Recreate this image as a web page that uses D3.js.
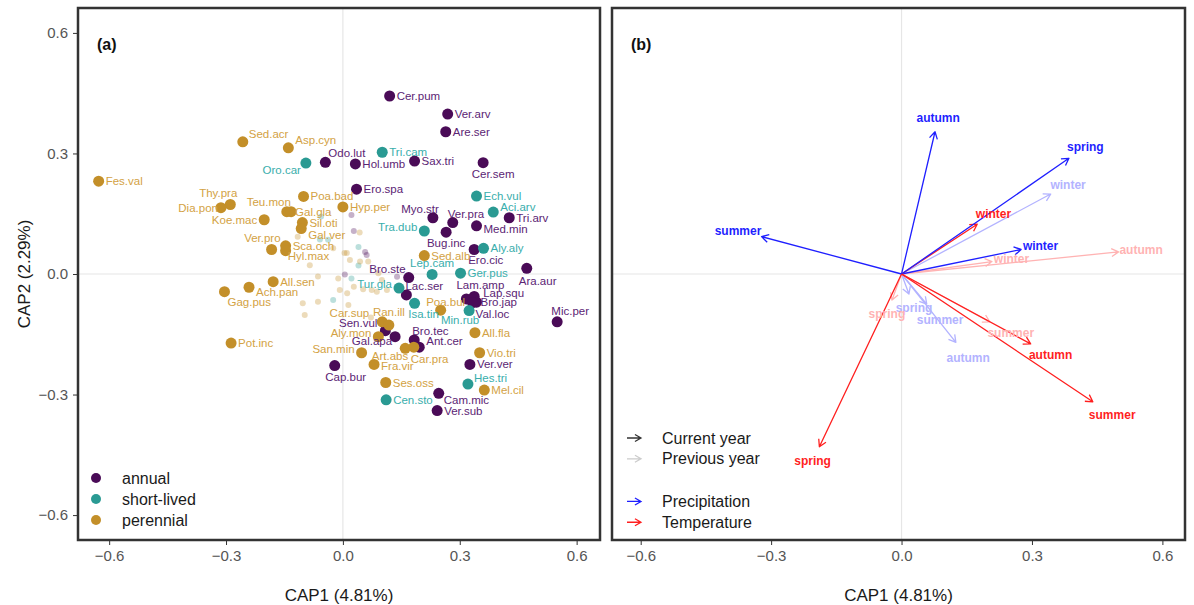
<!DOCTYPE html>
<html>
<head>
<meta charset="utf-8">
<script src="https://cdn.jsdelivr.net/npm/d3@7"></script>
<style>
  body { margin: 0; background: #fff; }
  text { font-family: "Liberation Sans", Arial, sans-serif; }
</style>
</head>
<body>
<svg id="chart" width="1194" height="605"></svg>
<script>
// ---- species scores (CAP1, CAP2) by life form ----
const annualNames = ["Cer.pum","Ver.arv","Are.ser","Odo.lut","Hol.umb","Sax.tri","Cer.sem","Ero.spa","Tri.arv","Myo.str","Ver.pra","Med.min","Bug.inc","Ero.cic","Ara.aur","Bro.ste","Lac.ser","Lam.amp","Lap.squ","Bro.jap","Val.loc","Mic.per","Bro.tec","Ant.cer","Sen.vul","Gal.apa","Cap.bur","Ver.ver","Cam.mic","Ver.sub"];
const annualCap1 = [0.120,0.269,0.264,-0.045,0.032,0.184,0.360,0.035,0.427,0.231,0.282,0.343,0.265,0.337,0.472,0.169,0.163,0.317,0.337,0.343,0.333,0.550,0.183,0.196,0.109,0.134,-0.021,0.326,0.246,0.242];
const annualCap2 = [0.443,0.398,0.354,0.278,0.274,0.281,0.277,0.211,0.140,0.140,0.128,0.120,0.104,0.061,0.014,-0.009,-0.052,-0.062,-0.056,-0.070,-0.071,-0.119,-0.164,-0.182,-0.141,-0.156,-0.228,-0.225,-0.297,-0.340];

const shortNames = ["Oro.car","Tri.cam","Ech.vul","Aci.arv","Tra.dub","Aly.aly","Lep.cam","Ger.pus","Tur.gla","Isa.tin","Min.rub","Hes.tri","Cen.sto"];
const shortCap1 = [-0.095,0.101,0.343,0.386,0.209,0.361,0.229,0.302,0.144,0.184,0.324,0.321,0.111];
const shortCap2 = [0.276,0.303,0.194,0.154,0.107,0.064,-0.001,0.002,-0.035,-0.073,-0.091,-0.274,-0.313];

const perennialNames = ["Sed.acr","Asp.cyn","Fes.val","Thy.pra","Dia.pon","Teu.mon","Gal.gla","Poa.bad","Hyp.per","Koe.mac","Sil.oti","Gal.ver","Ver.pro","Sca.och","Hyl.max","Sed.alb","All.sen","Ach.pan","Gag.pus","Pot.inc","Poa.bul","Car.sup","Ran.ill","Aly.mon","San.min","Fra.vir","Art.abs","Car.pra","All.fla","Vio.tri","Ses.oss","Mel.cil"];
const perennialCap1 = [-0.257,-0.140,-0.627,-0.289,-0.313,-0.144,-0.133,-0.101,0.000,-0.202,-0.104,-0.107,-0.183,-0.147,-0.147,0.209,-0.179,-0.241,-0.304,-0.287,0.251,0.101,0.118,0.091,0.048,0.080,0.160,0.182,0.339,0.351,0.110,0.363];
const perennialCap2 = [0.329,0.314,0.231,0.173,0.165,0.155,0.155,0.193,0.167,0.135,0.128,0.113,0.061,0.070,0.058,0.046,-0.019,-0.033,-0.044,-0.172,-0.090,-0.119,-0.127,-0.156,-0.196,-0.225,-0.185,-0.182,-0.146,-0.196,-0.270,-0.289];

// unlabelled (rare) species, drawn small and faint
const bgCap1 = [-0.116,-0.056,-0.059,-0.038,-0.025,0.022,0.028,0.043,0.040,0.057,0.061,0.010,0.018,0.040,0.005,-0.085,-0.064,0.022,-0.012,-0.008,0.011,0.028,0.052,0.091,0.100,0.087,-0.025,-0.103,-0.098,0.014,0.072,0.139,0.113,0.065,0.044,-0.064,0.074,0.004];
const bgCap2 = [0.093,0.143,0.086,0.085,0.064,0.147,0.107,0.103,0.067,0.055,0.047,0.052,0.035,0.021,-0.001,0.022,-0.006,-0.011,-0.011,-0.040,-0.048,-0.032,-0.038,0.002,-0.015,-0.044,-0.065,-0.073,-0.102,-0.077,-0.108,-0.007,-0.040,0.031,0.031,-0.069,-0.040,0.052];
const bgForm = ["perennial","short-lived","short-lived","short-lived","perennial","annual","annual","perennial","short-lived","annual",
                "annual","perennial","perennial","short-lived","annual","perennial","perennial","short-lived","perennial","perennial",
                "perennial","perennial","perennial","perennial","perennial","perennial","short-lived","perennial","perennial","perennial",
                "perennial","annual","perennial","perennial","perennial","perennial","perennial","perennial"];

// ---- environmental vectors (panel b) ----
const seasons = ["winter","spring","summer","autumn"];
const precipNowX = [0.275, 0.385, -0.322, 0.077];
const precipNowY = [0.061, 0.288, 0.093, 0.354];
const tempNowX = [0.174, -0.189, 0.440, 0.297];
const tempNowY = [0.124, -0.430, -0.318, -0.174];
const precipPrevX = [0.343, 0.017, 0.058, 0.125];
const precipPrevY = [0.199, -0.050, -0.075, -0.170];
const tempPrevX = [0.208, -0.022, 0.203, 0.499];
const tempPrevY = [0.031, -0.065, -0.119, 0.055];

const xTicks = [-0.6, -0.3, 0, 0.3, 0.6];
const yTicks = [-0.6, -0.3, 0, 0.3, 0.6];
const lifeForms = ["annual", "short-lived", "perennial"];

// repelled label placement: side of the point + small pixel nudge (default: right)
const labelPlace = {
  "Odo.lut":["tr",0,0], "Cer.sem":["b",10,0], "Myo.str":["tl",9,0], "Ver.pra":["tr",-8,0], "Med.min":["r",0,3],
  "Bug.inc":["b",0,0], "Ero.cic":["br",-9,0], "Ara.aur":["br",-11,3], "Bro.ste":["tl",0,0], "Lac.ser":["tr",-4,0],
  "Lam.amp":["t",14,-3], "Lap.squ":["r",2,-4], "Bro.jap":["r",-3,0], "Val.loc":["br",0,1], "Mic.per":["t",13,0],
  "Bro.tec":["tr",-5,0], "Ant.cer":["r",0,-6], "Sen.vul":["tl",-5,1], "Gal.apa":["l",4,4], "Cap.bur":["b",11,0],
  "Cam.mic":["br",2,-3],
  "Oro.car":["bl",-2,-3], "Aci.arv":["tr",4,4], "Tra.dub":["l",0,-4], "Lep.cam":["t",0,0], "Tur.gla":["l",0,-4],
  "Isa.tin":["b",9,0], "Min.rub":["b",-9,-2], "Hes.tri":["tr",3,3],
  "Sed.acr":["tr",3,1], "Asp.cyn":["tr",4,1], "Thy.pra":["tl",10,-3], "Dia.pon":["l",4,0], "Teu.mon":["tl",7,-1],
  "Gal.gla":["r",-3,0], "Koe.mac":["l",0,0], "Gal.ver":["r",0,6], "Ver.pro":["tl",12,-3], "Hyl.max":["r",-5,5],
  "Ach.pan":["r",0,5], "Gag.pus":["br",0,0], "Poa.bul":["t",5,3], "Car.sup":["tl",-10,0], "Ran.ill":["t",0,-2],
  "Aly.mon":["l",0,-4], "San.min":["l",0,-4], "Fra.vir":["r",0,2], "Art.abs":["bl",6,-2], "Car.pra":["br",-6,2]
};
const sideOffset = {
  r:  { dx: 7,  dy: 0,   anchor: "start" },
  l:  { dx: -7, dy: 0,   anchor: "end" },
  t:  { dx: 0,  dy: -11, anchor: "middle" },
  b:  { dx: 0,  dy: 11,  anchor: "middle" },
  tr: { dx: 3,  dy: -9,  anchor: "start" },
  tl: { dx: -3, dy: -9,  anchor: "end" },
  br: { dx: 3,  dy: 10,  anchor: "start" },
  bl: { dx: -3, dy: 10,  anchor: "end" }
};

const pointColor = d3.scaleOrdinal().domain(lifeForms).range(["#4a0b57", "#2a9a93", "#c38f29"]);
const labelColor = d3.scaleOrdinal().domain(lifeForms).range(["#5b2474", "#39aeac", "#d3a244"]);

const species = [];
annualNames.forEach((n, i) => species.push({ name: n, x: annualCap1[i], y: annualCap2[i], form: "annual" }));
shortNames.forEach((n, i) => species.push({ name: n, x: shortCap1[i], y: shortCap2[i], form: "short-lived" }));
perennialNames.forEach((n, i) => species.push({ name: n, x: perennialCap1[i], y: perennialCap2[i], form: "perennial" }));
const rare = bgCap1.map((v, i) => ({ x: v, y: bgCap2[i], form: bgForm[i] }));

const svg = d3.select("#chart");
const plotTop = 8, plotBottom = 540;

const y = d3.scaleLinear().domain([-0.662, 0.662]).range([plotBottom, plotTop]);
const xA = d3.scaleLinear().domain([-0.68, 0.66]).range([78, 600]);
const xB = d3.scaleLinear().domain([-0.666, 0.652]).range([612, 1185]);

function drawPanel(x, tag, showY) {
  const g = svg.append("g");
  // zero lines
  g.append("line").attr("x1", x(0)).attr("x2", x(0)).attr("y1", plotTop).attr("y2", plotBottom)
    .attr("stroke", "#e6e6e6").attr("stroke-width", 1.2);
  g.append("line").attr("x1", x.range()[0]).attr("x2", x.range()[1]).attr("y1", y(0)).attr("y2", y(0))
    .attr("stroke", "#e6e6e6").attr("stroke-width", 1.2);

  // x axis
  const ax = g.append("g").attr("transform", `translate(0,${plotBottom + 1})`)
    .call(d3.axisBottom(x).tickValues(xTicks).tickSize(4).tickPadding(5)
      .tickFormat(d => d3.format(".1f")(d).replace("-", "\u2212")));
  ax.select(".domain").remove();
  ax.selectAll("line").attr("stroke", "#333");
  ax.selectAll("text").attr("fill", "#555").style("font-size", "15px")
    .style("font-family", "'Liberation Sans', Arial, sans-serif");

  if (showY) {
    const ay = g.append("g").attr("transform", `translate(${x.range()[0] - 1},0)`)
      .call(d3.axisLeft(y).tickValues(yTicks).tickSize(4).tickPadding(5)
        .tickFormat(d => d3.format(".1f")(d).replace("-", "\u2212")));
    ay.select(".domain").remove();
    ay.selectAll("line").attr("stroke", "#333");
    ay.selectAll("text").attr("fill", "#555").style("font-size", "15px")
      .style("font-family", "'Liberation Sans', Arial, sans-serif");
  }

  g.append("text").attr("x", (x.range()[0] + x.range()[1]) / 2).attr("y", 601)
    .attr("text-anchor", "middle").attr("fill", "#1a1a1a").style("font-size", "17px")
    .text("CAP1 (4.81%)");

  g.append("text").attr("x", x.range()[0] + 19).attr("y", 50)
    .attr("font-weight", "bold").style("font-size", "16px").attr("fill", "#111").text(tag);
  return g;
}

function drawFrame(x) {
  svg.append("rect").attr("x", x.range()[0]).attr("y", plotTop)
    .attr("width", x.range()[1] - x.range()[0]).attr("height", plotBottom - plotTop)
    .attr("fill", "none").attr("stroke", "#333").attr("stroke-width", 2.5);
}

// ---------------- panel (a) ----------------
const gA = drawPanel(xA, "(a)", true);

svg.append("text").attr("transform", `translate(30,${y(0)}) rotate(-90)`)
  .attr("text-anchor", "middle").attr("fill", "#1a1a1a").style("font-size", "17px")
  .text("CAP2 (2.29%)");

gA.append("g").selectAll("circle").data(rare).join("circle")
  .attr("cx", d => xA(d.x)).attr("cy", d => y(d.y)).attr("r", 3)
  .attr("fill", d => pointColor(d.form)).attr("fill-opacity", 0.32);

gA.append("g").selectAll("circle").data(species).join("circle")
  .attr("cx", d => xA(d.x)).attr("cy", d => y(d.y)).attr("r", 5.5)
  .attr("fill", d => pointColor(d.form));

gA.append("g").selectAll("text").data(species).join("text")
  .each(function (d) {
    const p = labelPlace[d.name] || ["r", 0, 0];
    const o = sideOffset[p[0]];
    d3.select(this).attr("x", xA(d.x) + o.dx + p[1]).attr("y", y(d.y) + o.dy + p[2])
      .attr("dy", "0.35em").attr("text-anchor", o.anchor);
  })
  .attr("fill", d => labelColor(d.form)).style("font-size", "11.5px")
  .text(d => d.name);

// legend (a)
const legA = gA.append("g").selectAll("g").data(lifeForms).join("g")
  .attr("transform", (d, i) => `translate(96,${478 + i * 21})`);
legA.append("circle").attr("r", 5).attr("fill", d => pointColor(d));
legA.append("text").attr("x", 26).attr("dy", "0.35em").attr("fill", "#1a1a1a")
  .style("font-size", "16px").text(d => d);

drawFrame(xA);

// ---------------- panel (b) ----------------
const gB = drawPanel(xB, "(b)", false);

const vectors = [];
seasons.forEach((s, i) => {
  vectors.push({ season: s, x: precipPrevX[i], y: precipPrevY[i], color: "#b3b3ff", now: false });
  vectors.push({ season: s, x: tempPrevX[i], y: tempPrevY[i], color: "#ffb3b3", now: false });
});
seasons.forEach((s, i) => {
  vectors.push({ season: s, x: precipNowX[i], y: precipNowY[i], color: "#1f1fff", now: true });
  vectors.push({ season: s, x: tempNowX[i], y: tempNowY[i], color: "#ff1f1f", now: true });
});

function arrowPath(x0, y0, x1, y1, head) {
  const a = Math.atan2(y1 - y0, x1 - x0);
  const h1 = [x1 - head * Math.cos(a - Math.PI / 6), y1 - head * Math.sin(a - Math.PI / 6)];
  const h2 = [x1 - head * Math.cos(a + Math.PI / 6), y1 - head * Math.sin(a + Math.PI / 6)];
  return `M${x0},${y0}L${x1},${y1}M${h1[0]},${h1[1]}L${x1},${y1}L${h2[0]},${h2[1]}`;
}

const ox = xB(0), oy = y(0);
gB.append("g").selectAll("path").data(vectors).join("path")
  .attr("d", d => arrowPath(ox, oy, xB(d.x), y(d.y), 8))
  .attr("fill", "none").attr("stroke", d => d.color).attr("stroke-width", 1.3)
  .attr("stroke-linejoin", "round");

gB.append("g").selectAll("text").data(vectors).join("text")
  .attr("text-anchor", "middle").attr("dy", "0.35em")
  .attr("font-weight", "bold").style("font-size", "12px")
  .attr("fill", d => d.color).text(d => d.season)
  .each(function (d) {
    const tx = xB(d.x), ty = y(d.y);
    const dx = tx - ox, dy = ty - oy, len = Math.hypot(dx, dy);
    const ux = dx / len, uy = dy / len;
    const w = this.getComputedTextLength();
    const off = 5 + Math.abs(ux) * w * 0.4 + Math.abs(uy) * 5;
    d3.select(this).attr("x", tx + ux * off).attr("y", ty + uy * off);
  });

// legend (b)
const legItems = [
  { label: "Current year", color: "#333333", row: 0 },
  { label: "Previous year", color: "#cccccc", row: 1 },
  { label: "Precipitation", color: "#1f1fff", row: 3.05 },
  { label: "Temperature", color: "#ff1f1f", row: 4.05 }
];
const legB = gB.append("g").selectAll("g").data(legItems).join("g")
  .attr("transform", d => `translate(627,${438 + d.row * 20.8})`);
legB.append("path").attr("d", arrowPath(0, 0, 14, 0, 7))
  .attr("fill", "none").attr("stroke", d => d.color).attr("stroke-width", 1.3);
legB.append("text").attr("x", 35).attr("dy", "0.35em").attr("fill", "#1a1a1a")
  .style("font-size", "16px").text(d => d.label);

drawFrame(xB);
</script>
</body>
</html>
